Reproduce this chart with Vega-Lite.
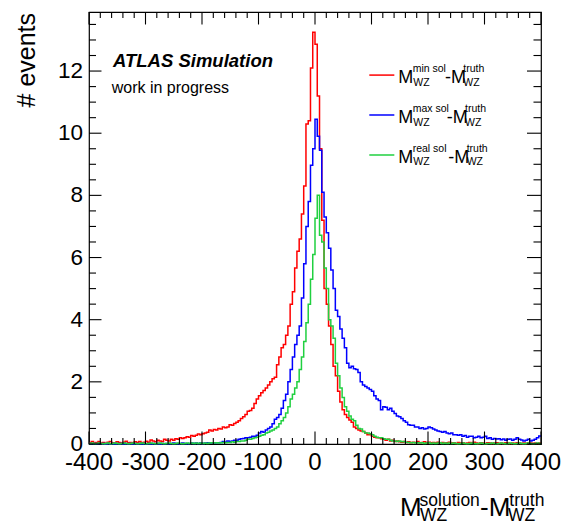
{
"$schema": "https://vega.github.io/schema/vega-lite/v6.json",
"width": 452, "height": 432,
"autosize": {"type": "none"},
"padding": {"left": 89, "top": 12, "right": 22, "bottom": 81},
"background": "white",
"config": {
  "view": {"stroke": "#000000", "strokeWidth": 1.2},
  "text": {"font": "Liberation Sans", "color": "#000000"}
},
"datasets": {
  "xmaj": [{"t":-400},{"t":-300},{"t":-200},{"t":-100},{"t":0},{"t":100},{"t":200},{"t":300},{"t":400}],
  "xmin": [{"t":-380},{"t":-360},{"t":-340},{"t":-320},{"t":-280},{"t":-260},{"t":-240},{"t":-220},{"t":-180},{"t":-160},{"t":-140},{"t":-120},{"t":-80},{"t":-60},{"t":-40},{"t":-20},{"t":20},{"t":40},{"t":60},{"t":80},{"t":120},{"t":140},{"t":160},{"t":180},{"t":220},{"t":240},{"t":260},{"t":280},{"t":320},{"t":340},{"t":360},{"t":380}],
  "ymaj": [{"t":0},{"t":2},{"t":4},{"t":6},{"t":8},{"t":10},{"t":12}],
  "ymin": [{"t":0.5},{"t":1},{"t":1.5},{"t":2.5},{"t":3},{"t":3.5},{"t":4.5},{"t":5},{"t":5.5},{"t":6.5},{"t":7},{"t":7.5},{"t":8.5},{"t":9},{"t":9.5},{"t":10.5},{"t":11},{"t":11.5},{"t":12.5},{"t":13},{"t":13.5}],
  "hist": [
{"x":-400,"r":0.04,"b":0.02,"g":0.02},{"x":-396,"r":0.08,"b":0.01,"g":0.03},{"x":-392,"r":0.03,"b":0.02,"g":0.01},{"x":-388,"r":0.05,"b":0.0,"g":0.02},
{"x":-384,"r":0.08,"b":0.02,"g":0.03},{"x":-380,"r":0.03,"b":0.01,"g":0.02},{"x":-376,"r":0.05,"b":0.02,"g":0.01},{"x":-372,"r":0.02,"b":0.0,"g":0.02},
{"x":-368,"r":0.06,"b":0.02,"g":0.03},{"x":-364,"r":0.08,"b":0.01,"g":0.01},{"x":-360,"r":0.04,"b":0.02,"g":0.02},{"x":-356,"r":0.03,"b":0.0,"g":0.03},
{"x":-352,"r":0.07,"b":0.02,"g":0.02},{"x":-348,"r":0.05,"b":0.01,"g":0.01},{"x":-344,"r":0.03,"b":0.02,"g":0.02},{"x":-340,"r":0.06,"b":0.0,"g":0.03},
{"x":-336,"r":0.09,"b":0.02,"g":0.02},{"x":-332,"r":0.04,"b":0.01,"g":0.01},{"x":-328,"r":0.05,"b":0.02,"g":0.02},{"x":-324,"r":0.03,"b":0.0,"g":0.03},
{"x":-320,"r":0.07,"b":0.02,"g":0.02},{"x":-316,"r":0.05,"b":0.01,"g":0.01},{"x":-312,"r":0.08,"b":0.02,"g":0.02},{"x":-308,"r":0.04,"b":0.0,"g":0.03},
{"x":-304,"r":0.06,"b":0.02,"g":0.02},{"x":-300,"r":0.09,"b":0.01,"g":0.01},{"x":-296,"r":0.06,"b":0.02,"g":0.02},{"x":-292,"r":0.13,"b":0.0,"g":0.03},
{"x":-288,"r":0.1,"b":0.02,"g":0.02},{"x":-284,"r":0.07,"b":0.01,"g":0.01},{"x":-280,"r":0.12,"b":0.02,"g":0.02},{"x":-276,"r":0.1,"b":0.0,"g":0.03},
{"x":-272,"r":0.08,"b":0.02,"g":0.02},{"x":-268,"r":0.15,"b":0.01,"g":0.01},{"x":-264,"r":0.12,"b":0.02,"g":0.02},{"x":-260,"r":0.1,"b":0.01,"g":0.03},
{"x":-256,"r":0.15,"b":0.02,"g":0.02},{"x":-252,"r":0.12,"b":0.03,"g":0.01},{"x":-248,"r":0.17,"b":0.02,"g":0.02},{"x":-244,"r":0.15,"b":0.01,"g":0.03},
{"x":-240,"r":0.2,"b":0.02,"g":0.02},{"x":-236,"r":0.18,"b":0.03,"g":0.01},{"x":-232,"r":0.2,"b":0.02,"g":0.02},{"x":-228,"r":0.23,"b":0.01,"g":0.03},
{"x":-224,"r":0.22,"b":0.02,"g":0.02},{"x":-220,"r":0.27,"b":0.03,"g":0.03},{"x":-216,"r":0.25,"b":0.02,"g":0.02},{"x":-212,"r":0.28,"b":0.03,"g":0.03},
{"x":-208,"r":0.32,"b":0.02,"g":0.02},{"x":-204,"r":0.3,"b":0.03,"g":0.03},{"x":-200,"r":0.33,"b":0.02,"g":0.02},{"x":-196,"r":0.35,"b":0.03,"g":0.03},
{"x":-192,"r":0.38,"b":0.04,"g":0.02},{"x":-188,"r":0.45,"b":0.03,"g":0.03},{"x":-184,"r":0.42,"b":0.04,"g":0.04},{"x":-180,"r":0.47,"b":0.03,"g":0.03},
{"x":-176,"r":0.45,"b":0.04,"g":0.04},{"x":-172,"r":0.5,"b":0.04,"g":0.03},{"x":-168,"r":0.48,"b":0.05,"g":0.04},{"x":-164,"r":0.55,"b":0.08,"g":0.05},
{"x":-160,"r":0.52,"b":0.06,"g":0.04},{"x":-156,"r":0.55,"b":0.1,"g":0.05},{"x":-152,"r":0.62,"b":0.08,"g":0.05},{"x":-148,"r":0.6,"b":0.1,"g":0.07},
{"x":-144,"r":0.66,"b":0.12,"g":0.06},{"x":-140,"r":0.7,"b":0.12,"g":0.08},{"x":-136,"r":0.75,"b":0.15,"g":0.08},{"x":-132,"r":0.82,"b":0.17,"g":0.1},
{"x":-128,"r":0.88,"b":0.18,"g":0.1},{"x":-124,"r":0.95,"b":0.2,"g":0.12},{"x":-120,"r":1.05,"b":0.2,"g":0.15},{"x":-116,"r":1.08,"b":0.22,"g":0.15},
{"x":-112,"r":1.15,"b":0.25,"g":0.18},{"x":-108,"r":1.3,"b":0.25,"g":0.2},{"x":-104,"r":1.45,"b":0.28,"g":0.22},{"x":-100,"r":1.55,"b":0.35,"g":0.25},
{"x":-96,"r":1.65,"b":0.4,"g":0.28},{"x":-92,"r":1.72,"b":0.38,"g":0.3},{"x":-88,"r":1.8,"b":0.45,"g":0.35},{"x":-84,"r":1.9,"b":0.5,"g":0.38},
{"x":-80,"r":2.0,"b":0.55,"g":0.42},{"x":-76,"r":2.1,"b":0.65,"g":0.45},{"x":-72,"r":2.15,"b":0.8,"g":0.5},{"x":-68,"r":2.55,"b":0.85,"g":0.55},
{"x":-64,"r":2.8,"b":0.95,"g":0.65},{"x":-60,"r":3.1,"b":1.15,"g":0.75},{"x":-56,"r":3.2,"b":1.4,"g":0.85},{"x":-52,"r":3.5,"b":1.6,"g":1.0},
{"x":-48,"r":3.8,"b":2.0,"g":1.2},{"x":-44,"r":4.5,"b":2.4,"g":1.45},{"x":-40,"r":4.9,"b":2.8,"g":1.6},{"x":-36,"r":5.66,"b":3.2,"g":1.8},
{"x":-32,"r":6.2,"b":3.5,"g":2.0},{"x":-28,"r":6.6,"b":3.8,"g":2.4},{"x":-24,"r":7.4,"b":4.7,"g":2.8},{"x":-20,"r":8.3,"b":5.8,"g":3.3},
{"x":-16,"r":10.3,"b":7.0,"g":3.9},{"x":-12,"r":10.4,"b":7.8,"g":4.5},{"x":-8,"r":12.1,"b":8.97,"g":5.3},{"x":-4,"r":13.25,"b":9.5,"g":6.1},
{"x":0,"r":12.86,"b":10.45,"g":7.26},{"x":4,"r":11.2,"b":9.9,"g":8.0},{"x":8,"r":9.5,"b":9.45,"g":6.72},{"x":12,"r":7.2,"b":8.1,"g":6.5},
{"x":16,"r":5.0,"b":7.3,"g":5.66},{"x":20,"r":4.5,"b":6.8,"g":5.0},{"x":24,"r":3.8,"b":6.3,"g":4.0},{"x":28,"r":3.2,"b":5.6,"g":3.8},
{"x":32,"r":2.5,"b":5.0,"g":3.4},{"x":36,"r":2.2,"b":4.3,"g":2.6},{"x":40,"r":1.7,"b":4.1,"g":2.2},{"x":44,"r":1.35,"b":3.7,"g":1.8},
{"x":48,"r":1.1,"b":3.4,"g":1.5},{"x":52,"r":0.95,"b":3.1,"g":1.2},{"x":56,"r":0.85,"b":2.6,"g":1.05},{"x":60,"r":0.77,"b":2.45,"g":0.9},
{"x":64,"r":0.7,"b":2.5,"g":0.8},{"x":68,"r":0.55,"b":2.42,"g":0.75},{"x":72,"r":0.5,"b":2.4,"g":0.6},{"x":76,"r":0.45,"b":2.3,"g":0.5},
{"x":80,"r":0.42,"b":2.0,"g":0.48},{"x":84,"r":0.4,"b":1.9,"g":0.4},{"x":88,"r":0.35,"b":1.85,"g":0.35},{"x":92,"r":0.3,"b":1.8,"g":0.35},
{"x":96,"r":0.3,"b":1.75,"g":0.33},{"x":100,"r":0.25,"b":1.7,"g":0.3},{"x":104,"r":0.22,"b":1.55,"g":0.25},{"x":108,"r":0.2,"b":1.45,"g":0.22},
{"x":112,"r":0.2,"b":1.4,"g":0.2},{"x":116,"r":0.17,"b":1.1,"g":0.2},{"x":120,"r":0.15,"b":1.2,"g":0.17},{"x":124,"r":0.12,"b":1.18,"g":0.15},
{"x":128,"r":0.15,"b":1.1,"g":0.15},{"x":132,"r":0.1,"b":1.15,"g":0.12},{"x":136,"r":0.12,"b":1.05,"g":0.1},{"x":140,"r":0.08,"b":0.98,"g":0.1},
{"x":144,"r":0.1,"b":0.9,"g":0.08},{"x":148,"r":0.07,"b":0.88,"g":0.1},{"x":152,"r":0.06,"b":0.82,"g":0.07},{"x":156,"r":0.08,"b":0.75,"g":0.08},
{"x":160,"r":0.05,"b":0.7,"g":0.06},{"x":164,"r":0.07,"b":0.62,"g":0.05},{"x":168,"r":0.04,"b":0.6,"g":0.04},{"x":172,"r":0.06,"b":0.6,"g":0.05},
{"x":176,"r":0.05,"b":0.55,"g":0.03},{"x":180,"r":0.08,"b":0.55,"g":0.04},{"x":184,"r":0.04,"b":0.5,"g":0.03},{"x":188,"r":0.05,"b":0.52,"g":0.04},
{"x":192,"r":0.07,"b":0.48,"g":0.02},{"x":196,"r":0.03,"b":0.5,"g":0.03},{"x":200,"r":0.06,"b":0.55,"g":0.04},{"x":204,"r":0.04,"b":0.52,"g":0.02},
{"x":208,"r":0.05,"b":0.48,"g":0.03},{"x":212,"r":0.03,"b":0.45,"g":0.02},{"x":216,"r":0.06,"b":0.42,"g":0.03},{"x":220,"r":0.04,"b":0.4,"g":0.04},
{"x":224,"r":0.05,"b":0.38,"g":0.02},{"x":228,"r":0.03,"b":0.4,"g":0.03},{"x":232,"r":0.04,"b":0.35,"g":0.02},{"x":236,"r":0.06,"b":0.33,"g":0.03},
{"x":240,"r":0.03,"b":0.35,"g":0.02},{"x":244,"r":0.04,"b":0.3,"g":0.03},{"x":248,"r":0.02,"b":0.3,"g":0.02},{"x":252,"r":0.05,"b":0.28,"g":0.01},
{"x":256,"r":0.03,"b":0.3,"g":0.02},{"x":260,"r":0.04,"b":0.25,"g":0.03},{"x":264,"r":0.02,"b":0.27,"g":0.02},{"x":268,"r":0.03,"b":0.22,"g":0.01},
{"x":272,"r":0.05,"b":0.25,"g":0.02},{"x":276,"r":0.03,"b":0.25,"g":0.03},{"x":280,"r":0.06,"b":0.2,"g":0.02},{"x":284,"r":0.03,"b":0.22,"g":0.01},
{"x":288,"r":0.02,"b":0.25,"g":0.02},{"x":292,"r":0.04,"b":0.2,"g":0.03},{"x":296,"r":0.03,"b":0.22,"g":0.02},{"x":300,"r":0.02,"b":0.25,"g":0.01},
{"x":304,"r":0.04,"b":0.18,"g":0.02},{"x":308,"r":0.03,"b":0.2,"g":0.02},{"x":312,"r":0.02,"b":0.15,"g":0.03},{"x":316,"r":0.03,"b":0.18,"g":0.02},
{"x":320,"r":0.04,"b":0.16,"g":0.01},{"x":324,"r":0.02,"b":0.17,"g":0.02},{"x":328,"r":0.03,"b":0.14,"g":0.03},{"x":332,"r":0.02,"b":0.16,"g":0.02},
{"x":336,"r":0.04,"b":0.12,"g":0.01},{"x":340,"r":0.03,"b":0.15,"g":0.02},{"x":344,"r":0.02,"b":0.16,"g":0.03},{"x":348,"r":0.03,"b":0.12,"g":0.02},
{"x":352,"r":0.02,"b":0.15,"g":0.01},{"x":356,"r":0.04,"b":0.2,"g":0.02},{"x":360,"r":0.03,"b":0.15,"g":0.03},{"x":364,"r":0.02,"b":0.13,"g":0.02},
{"x":368,"r":0.03,"b":0.1,"g":0.01},{"x":372,"r":0.02,"b":0.12,"g":0.02},{"x":376,"r":0.04,"b":0.15,"g":0.03},{"x":380,"r":0.03,"b":0.1,"g":0.02},
{"x":384,"r":0.02,"b":0.12,"g":0.01},{"x":388,"r":0.03,"b":0.15,"g":0.02},{"x":392,"r":0.02,"b":0.2,"g":0.03},{"x":396,"r":0.03,"b":0.26,"g":0.02},
{"x":400,"r":0.03,"b":0.26,"g":0.02}
]},
"layer": [
{
  "data": {"name": "hist"},
  "transform": [{"fold": ["r", "b", "g"], "as": ["series", "value"]}],
  "mark": {"type": "line", "interpolate": "step-after", "strokeWidth": 1.5},
  "encoding": {
    "x": {"field": "x", "type": "quantitative", "scale": {"domain": [-400, 400], "nice": false, "zero": false}, "axis": null},
    "y": {"field": "value", "type": "quantitative", "scale": {"domain": [0, 13.9], "nice": false, "zero": false}, "axis": null},
    "color": {"field": "series", "type": "nominal", "scale": {"domain": ["r", "b", "g"], "range": ["#ff0000", "#0000ff", "#20d040"]}, "legend": null}
  }
},
{"data": {"name": "xmaj"}, "mark": {"type": "rule", "color": "#000000", "strokeWidth": 1.1},
 "encoding": {"x": {"field": "t", "type": "quantitative", "axis": null}, "y": {"datum": 0, "type": "quantitative", "axis": null}, "y2": {"datum": 0.402}}},
{"data": {"name": "xmin"}, "mark": {"type": "rule", "color": "#000000", "strokeWidth": 1.1},
 "encoding": {"x": {"field": "t", "type": "quantitative", "axis": null}, "y": {"datum": 0, "type": "quantitative", "axis": null}, "y2": {"datum": 0.193}}},
{"data": {"name": "xmaj"}, "mark": {"type": "rule", "color": "#000000", "strokeWidth": 1.1},
 "encoding": {"x": {"field": "t", "type": "quantitative", "axis": null}, "y": {"datum": 13.9, "type": "quantitative", "axis": null}, "y2": {"datum": 13.498}}},
{"data": {"name": "xmin"}, "mark": {"type": "rule", "color": "#000000", "strokeWidth": 1.1},
 "encoding": {"x": {"field": "t", "type": "quantitative", "axis": null}, "y": {"datum": 13.9, "type": "quantitative", "axis": null}, "y2": {"datum": 13.707}}},
{"data": {"name": "ymaj"}, "mark": {"type": "rule", "color": "#000000", "strokeWidth": 1.1},
 "encoding": {"y": {"field": "t", "type": "quantitative", "axis": null}, "x": {"datum": -400, "type": "quantitative", "axis": null}, "x2": {"datum": -377.9}}},
{"data": {"name": "ymin"}, "mark": {"type": "rule", "color": "#000000", "strokeWidth": 1.1},
 "encoding": {"y": {"field": "t", "type": "quantitative", "axis": null}, "x": {"datum": -400, "type": "quantitative", "axis": null}, "x2": {"datum": -387.6}}},
{"data": {"name": "ymaj"}, "mark": {"type": "rule", "color": "#000000", "strokeWidth": 1.1},
 "encoding": {"y": {"field": "t", "type": "quantitative", "axis": null}, "x": {"datum": 400, "type": "quantitative", "axis": null}, "x2": {"datum": 375.2}}},
{"data": {"name": "ymin"}, "mark": {"type": "rule", "color": "#000000", "strokeWidth": 1.1},
 "encoding": {"y": {"field": "t", "type": "quantitative", "axis": null}, "x": {"datum": 400, "type": "quantitative", "axis": null}, "x2": {"datum": 386.7}}},

{"data": {"name": "xmaj"}, "mark": {"type": "text", "align": "center", "baseline": "top", "fontSize": 24},
 "encoding": {"x": {"field": "t", "type": "quantitative", "axis": null}, "y": {"datum": -0.225, "type": "quantitative", "axis": null}, "text": {"field": "t", "type": "nominal"}}},
{"data": {"name": "ymaj"}, "mark": {"type": "text", "align": "right", "baseline": "middle", "fontSize": 22.5},
 "encoding": {"y": {"field": "t", "type": "quantitative", "axis": null}, "x": {"datum": -410.6, "type": "quantitative", "axis": null}, "text": {"field": "t", "type": "nominal"}}},
{"data": {"values": [{}]}, "mark": {"type": "text", "text": "# events", "angle": 270, "align": "right", "baseline": "alphabetic", "fontSize": 25},
 "encoding": {"x": {"datum": -495.6, "type": "quantitative", "axis": null}, "y": {"datum": 13.87, "type": "quantitative", "axis": null}}},

{"data": {"values": [{}]}, "mark": {"type": "text", "text": "ATLAS Simulation", "align": "left", "baseline": "alphabetic", "fontSize": 18.5, "fontWeight": "bold", "fontStyle": "italic"},
 "encoding": {"x": {"datum": -357.5, "type": "quantitative", "axis": null}, "y": {"datum": 12.14, "type": "quantitative", "axis": null}}},
{"data": {"values": [{}]}, "mark": {"type": "text", "text": "work in progress", "align": "left", "baseline": "alphabetic", "fontSize": 16},
 "encoding": {"x": {"datum": -359.8, "type": "quantitative", "axis": null}, "y": {"datum": 11.29, "type": "quantitative", "axis": null}}},

{"data": {"values": [{}]}, "mark": {"type": "text", "text": "M", "align": "left", "baseline": "alphabetic", "fontSize": 26},
 "encoding": {"x": {"datum": 150.4, "type": "quantitative", "axis": null}, "y": {"datum": -2.33, "type": "quantitative", "axis": null}}},
{"data": {"values": [{}]}, "mark": {"type": "text", "text": "solution", "align": "left", "baseline": "alphabetic", "fontSize": 17.5},
 "encoding": {"x": {"datum": 185.0, "type": "quantitative", "axis": null}, "y": {"datum": -1.99, "type": "quantitative", "axis": null}}},
{"data": {"values": [{}]}, "mark": {"type": "text", "text": "WZ", "align": "left", "baseline": "alphabetic", "fontSize": 17.5},
 "encoding": {"x": {"datum": 185.8, "type": "quantitative", "axis": null}, "y": {"datum": -2.48, "type": "quantitative", "axis": null}}},
{"data": {"values": [{}]}, "mark": {"type": "text", "text": "-M", "align": "left", "baseline": "alphabetic", "fontSize": 26},
 "encoding": {"x": {"datum": 292.0, "type": "quantitative", "axis": null}, "y": {"datum": -2.33, "type": "quantitative", "axis": null}}},
{"data": {"values": [{}]}, "mark": {"type": "text", "text": "truth", "align": "left", "baseline": "alphabetic", "fontSize": 17.5},
 "encoding": {"x": {"datum": 344.0, "type": "quantitative", "axis": null}, "y": {"datum": -1.99, "type": "quantitative", "axis": null}}},
{"data": {"values": [{}]}, "mark": {"type": "text", "text": "WZ", "align": "left", "baseline": "alphabetic", "fontSize": 17.5},
 "encoding": {"x": {"datum": 341.6, "type": "quantitative", "axis": null}, "y": {"datum": -2.48, "type": "quantitative", "axis": null}}},

{"data": {"values": [{}]}, "mark": {"type": "rule", "color": "#ff0000", "strokeWidth": 1.5},
 "encoding": {"x": {"datum": 96.1, "type": "quantitative", "axis": null}, "x2": {"datum": 140.4}, "y": {"datum": 11.87, "type": "quantitative", "axis": null}}},
{"data": {"values": [{}]}, "mark": {"type": "rule", "color": "#0000ff", "strokeWidth": 1.5},
 "encoding": {"x": {"datum": 96.1, "type": "quantitative", "axis": null}, "x2": {"datum": 140.4}, "y": {"datum": 10.586, "type": "quantitative", "axis": null}}},
{"data": {"values": [{}]}, "mark": {"type": "rule", "color": "#20d040", "strokeWidth": 1.5},
 "encoding": {"x": {"datum": 96.1, "type": "quantitative", "axis": null}, "x2": {"datum": 140.4}, "y": {"datum": 9.299, "type": "quantitative", "axis": null}}},

{"data": {"values": [{}]}, "mark": {"type": "text", "text": "M", "align": "left", "baseline": "alphabetic", "fontSize": 18},
 "encoding": {"x": {"datum": 147.4, "type": "quantitative", "axis": null}, "y": {"datum": 11.606, "type": "quantitative", "axis": null}}},
{"data": {"values": [{}]}, "mark": {"type": "text", "text": "min sol", "align": "left", "baseline": "alphabetic", "fontSize": 10.5},
 "encoding": {"x": {"datum": 172.9, "type": "quantitative", "axis": null}, "y": {"datum": 11.978, "type": "quantitative", "axis": null}}},
{"data": {"values": [{}]}, "mark": {"type": "text", "text": "WZ", "align": "left", "baseline": "alphabetic", "fontSize": 10.5},
 "encoding": {"x": {"datum": 174.0, "type": "quantitative", "axis": null}, "y": {"datum": 11.535, "type": "quantitative", "axis": null}}},
{"data": {"values": [{}]}, "mark": {"type": "text", "text": "-M", "align": "left", "baseline": "alphabetic", "fontSize": 18},
 "encoding": {"x": {"datum": 230.1, "type": "quantitative", "axis": null}, "y": {"datum": 11.606, "type": "quantitative", "axis": null}}},
{"data": {"values": [{}]}, "mark": {"type": "text", "text": "truth", "align": "left", "baseline": "alphabetic", "fontSize": 10.5},
 "encoding": {"x": {"datum": 262.5, "type": "quantitative", "axis": null}, "y": {"datum": 11.978, "type": "quantitative", "axis": null}}},
{"data": {"values": [{}]}, "mark": {"type": "text", "text": "WZ", "align": "left", "baseline": "alphabetic", "fontSize": 10.5},
 "encoding": {"x": {"datum": 262.5, "type": "quantitative", "axis": null}, "y": {"datum": 11.535, "type": "quantitative", "axis": null}}},

{"data": {"values": [{}]}, "mark": {"type": "text", "text": "M", "align": "left", "baseline": "alphabetic", "fontSize": 18},
 "encoding": {"x": {"datum": 147.4, "type": "quantitative", "axis": null}, "y": {"datum": 10.319, "type": "quantitative", "axis": null}}},
{"data": {"values": [{}]}, "mark": {"type": "text", "text": "max sol", "align": "left", "baseline": "alphabetic", "fontSize": 10.5},
 "encoding": {"x": {"datum": 172.9, "type": "quantitative", "axis": null}, "y": {"datum": 10.692, "type": "quantitative", "axis": null}}},
{"data": {"values": [{}]}, "mark": {"type": "text", "text": "WZ", "align": "left", "baseline": "alphabetic", "fontSize": 10.5},
 "encoding": {"x": {"datum": 174.0, "type": "quantitative", "axis": null}, "y": {"datum": 10.248, "type": "quantitative", "axis": null}}},
{"data": {"values": [{}]}, "mark": {"type": "text", "text": "-M", "align": "left", "baseline": "alphabetic", "fontSize": 18},
 "encoding": {"x": {"datum": 233.1, "type": "quantitative", "axis": null}, "y": {"datum": 10.319, "type": "quantitative", "axis": null}}},
{"data": {"values": [{}]}, "mark": {"type": "text", "text": "truth", "align": "left", "baseline": "alphabetic", "fontSize": 10.5},
 "encoding": {"x": {"datum": 265.5, "type": "quantitative", "axis": null}, "y": {"datum": 10.692, "type": "quantitative", "axis": null}}},
{"data": {"values": [{}]}, "mark": {"type": "text", "text": "WZ", "align": "left", "baseline": "alphabetic", "fontSize": 10.5},
 "encoding": {"x": {"datum": 265.5, "type": "quantitative", "axis": null}, "y": {"datum": 10.248, "type": "quantitative", "axis": null}}},

{"data": {"values": [{}]}, "mark": {"type": "text", "text": "M", "align": "left", "baseline": "alphabetic", "fontSize": 18},
 "encoding": {"x": {"datum": 147.4, "type": "quantitative", "axis": null}, "y": {"datum": 9.031, "type": "quantitative", "axis": null}}},
{"data": {"values": [{}]}, "mark": {"type": "text", "text": "real sol", "align": "left", "baseline": "alphabetic", "fontSize": 10.5},
 "encoding": {"x": {"datum": 172.9, "type": "quantitative", "axis": null}, "y": {"datum": 9.405, "type": "quantitative", "axis": null}}},
{"data": {"values": [{}]}, "mark": {"type": "text", "text": "WZ", "align": "left", "baseline": "alphabetic", "fontSize": 10.5},
 "encoding": {"x": {"datum": 174.0, "type": "quantitative", "axis": null}, "y": {"datum": 8.961, "type": "quantitative", "axis": null}}},
{"data": {"values": [{}]}, "mark": {"type": "text", "text": "-M", "align": "left", "baseline": "alphabetic", "fontSize": 18},
 "encoding": {"x": {"datum": 235.9, "type": "quantitative", "axis": null}, "y": {"datum": 9.031, "type": "quantitative", "axis": null}}},
{"data": {"values": [{}]}, "mark": {"type": "text", "text": "truth", "align": "left", "baseline": "alphabetic", "fontSize": 10.5},
 "encoding": {"x": {"datum": 268.5, "type": "quantitative", "axis": null}, "y": {"datum": 9.405, "type": "quantitative", "axis": null}}},
{"data": {"values": [{}]}, "mark": {"type": "text", "text": "WZ", "align": "left", "baseline": "alphabetic", "fontSize": 10.5},
 "encoding": {"x": {"datum": 268.5, "type": "quantitative", "axis": null}, "y": {"datum": 8.961, "type": "quantitative", "axis": null}}}
]
}
